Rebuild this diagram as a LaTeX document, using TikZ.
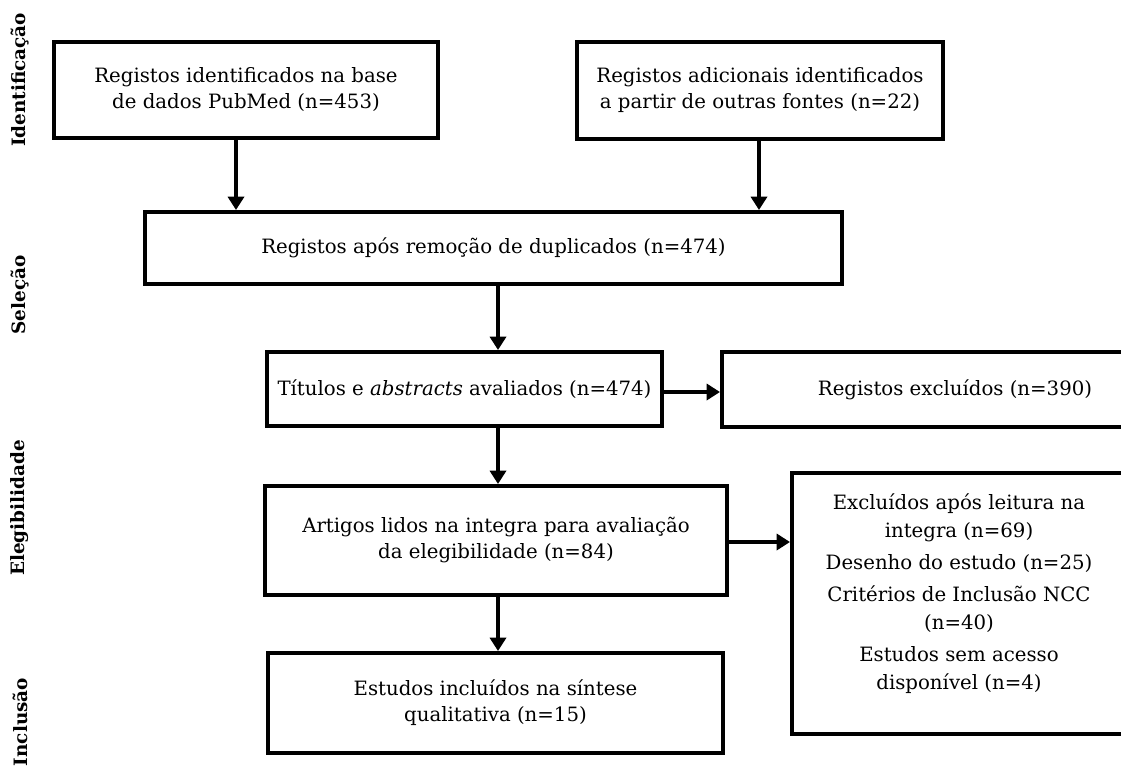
\documentclass[tikz,border=0pt]{standalone}
\usepackage{fontspec}
\setmainfont{DejaVu Serif}
\usetikzlibrary{arrows.meta,calc}
\begin{document}
\begin{tikzpicture}[x=0.75pt,y=-0.75pt,
 box/.style={draw,line width=3pt,inner sep=0pt,align=center,font=\fontsize{14.8}{19.5}\selectfont},
 txt/.style={inner sep=0pt,align=center,font=\fontsize{14.8}{21}\selectfont},
 arr/.style={line width=3pt,-{Triangle[width=12pt,length=10pt]}},
 side/.style={rotate=90,font=\fontsize{13.8}{16}\selectfont\bfseries}]
\path[use as bounding box] (0,0) rectangle (1121,776);
\clip (0,0) rectangle (1121,776);
\node[box,minimum width=288pt,minimum height=72pt] (B1) at (246,90) {Registos identificados na base\\de dados PubMed (n=453)};
\node[box,minimum width=274.5pt,minimum height=72.75pt] (B2) at (760,90.5) {Registos adicionais identificados\\a partir de outras fontes (n=22)};
\node[box,minimum width=522.75pt,minimum height=54pt] (B3) at (493.5,248) {Registos após remoção de duplicados (n=474)};
\node[box,minimum width=296.25pt,minimum height=55.5pt] (B4) at (464.5,389) {Títulos e \textit{abstracts} avaliados (n=474)};
\node[box,minimum width=349.5pt,minimum height=56.25pt] (B5) at (955,389.5) {Registos excluídos (n=390)};
\node[box,minimum width=346.5pt,minimum height=81.75pt] (B6) at (496,540.5) {Artigos lidos na integra para avaliação\\da elegibilidade (n=84)};
\node[box,minimum width=250.5pt,minimum height=195.75pt] (B7) at (959,603.5) {};
\node[txt] (T7) at (959,594) {Excluídos após leitura na\\integra (n=69)\\[3pt]Desenho do estudo (n=25)\\[3pt]Critérios de Inclusão NCC\\(n=40)\\[3pt]Estudos sem acesso\\disponível (n=4)};
\node[box,minimum width=341.25pt,minimum height=75pt] (B8) at (495.5,703) {Estudos incluídos na síntese\\qualitativa (n=15)};
\node[side] (L1) at (20,80) {Identificação};
\node[side] (L2) at (20,295) {Seleção};
\node[side] (L3) at (20,508) {Elegibilidade};
\node[side] (L4) at (20,722) {Inclusão};
\coordinate (a1) at (236,0);
\coordinate (a2) at (759,0);
\coordinate (a3) at (498,0);
\coordinate (h1) at (0,392);
\coordinate (h2) at (0,542);
\draw[arr] (B1.south -| a1) -- (B3.north -| a1);
\draw[arr] (B2.south -| a2) -- (B3.north -| a2);
\draw[arr] (B3.south -| a3) -- (B4.north -| a3);
\draw[arr] (B4.south -| a3) -- (B6.north -| a3);
\draw[arr] (B6.south -| a3) -- (B8.north -| a3);
\draw[arr] (B4.east |- h1) -- (B5.west |- h1);
\draw[arr] (B6.east |- h2) -- (B7.west |- h2);
\end{tikzpicture}
\end{document}
